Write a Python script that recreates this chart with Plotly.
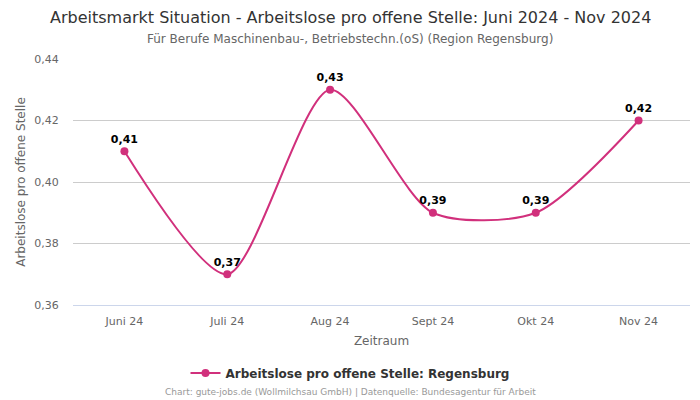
import plotly.graph_objects as go

categories = ["Juni 24", "Juli 24", "Aug 24", "Sept 24", "Okt 24", "Nov 24"]
values = [0.41, 0.37, 0.43, 0.39, 0.39, 0.42]
labels = [f"{v:.2f}".replace(".", ",") for v in values]
y_ticks = [0.36, 0.38, 0.40, 0.42, 0.44]
y_tick_labels = [f"{v:.2f}".replace(".", ",") for v in y_ticks]

color = "#d1307c"
font = "DejaVu Sans"

W, H = 700, 400
L, R, T, B = 73, 10, 59, 95
pw, ph = W - L - R, H - T - B
cx = (W / 2 - L) / pw


def py(pix):
    return (H - B - pix) / ph


fig = go.Figure()
fig.add_trace(go.Scatter(
    x=list(range(len(categories))), y=values,
    mode="lines+markers+text",
    line=dict(color=color, width=2, shape="spline", smoothing=0.75),
    marker=dict(color=color, size=8),
    text=labels, textposition="top center",
    textfont=dict(family=font, size=11, color="#000000", weight="bold"),
    name="Arbeitslose pro offene Stelle: Regensburg",
))

fig.update_layout(
    width=W, height=H,
    margin=dict(l=L, r=R, t=T, b=B),
    paper_bgcolor="white", plot_bgcolor="white",
    font=dict(family=font, color="#666666"),
    showlegend=True,
    legend=dict(orientation="h", x=cx, xanchor="center", y=py(373), yanchor="middle",
                font=dict(family=font, size=12, color="#333333", weight="bold")),
    xaxis=dict(
        tickmode="array", tickvals=list(range(len(categories))), ticktext=categories,
        range=[-0.5, 5.5], showgrid=False, showline=True, linecolor="#ccd6eb",
        ticks="outside", ticklen=6, tickcolor="rgba(0,0,0,0)",
        tickfont=dict(size=11, color="#666666"), zeroline=False,
        title=dict(text="Zeitraum", font=dict(size=12, color="#666666"), standoff=9),
    ),
    yaxis=dict(
        tickmode="array", tickvals=y_ticks, ticktext=y_tick_labels,
        range=[0.36, 0.44], showgrid=True, gridcolor="#cccccc", zeroline=False,
        ticks="outside", ticklen=11, tickcolor="rgba(0,0,0,0)",
        tickfont=dict(size=11, color="#666666"),
        title=dict(text="Arbeitslose pro offene Stelle", font=dict(size=12, color="#666666"), standoff=6),
    ),
)

fig.add_annotation(text="Arbeitsmarkt Situation - Arbeitslose pro offene Stelle: Juni 2024 - Nov 2024",
                   xref="paper", yref="paper", x=cx, y=py(17), xanchor="center", yanchor="middle",
                   showarrow=False, font=dict(family=font, size=16, color="#333333"))
fig.add_annotation(text="Für Berufe Maschinenbau-, Betriebstechn.(oS) (Region Regensburg)",
                   xref="paper", yref="paper", x=cx, y=py(39), xanchor="center", yanchor="middle",
                   showarrow=False, font=dict(family=font, size=12, color="#666666"))
fig.add_annotation(text="Chart: gute-jobs.de (Wollmilchsau GmbH) | Datenquelle: Bundesagentur für Arbeit",
                   xref="paper", yref="paper", x=cx, y=py(392), xanchor="center", yanchor="middle",
                   showarrow=False, font=dict(family=font, size=9, color="#999999"))

fig.write_html("out.html", config={"displayModeBar": False},
               post_script="document.body.style.margin='0';")
